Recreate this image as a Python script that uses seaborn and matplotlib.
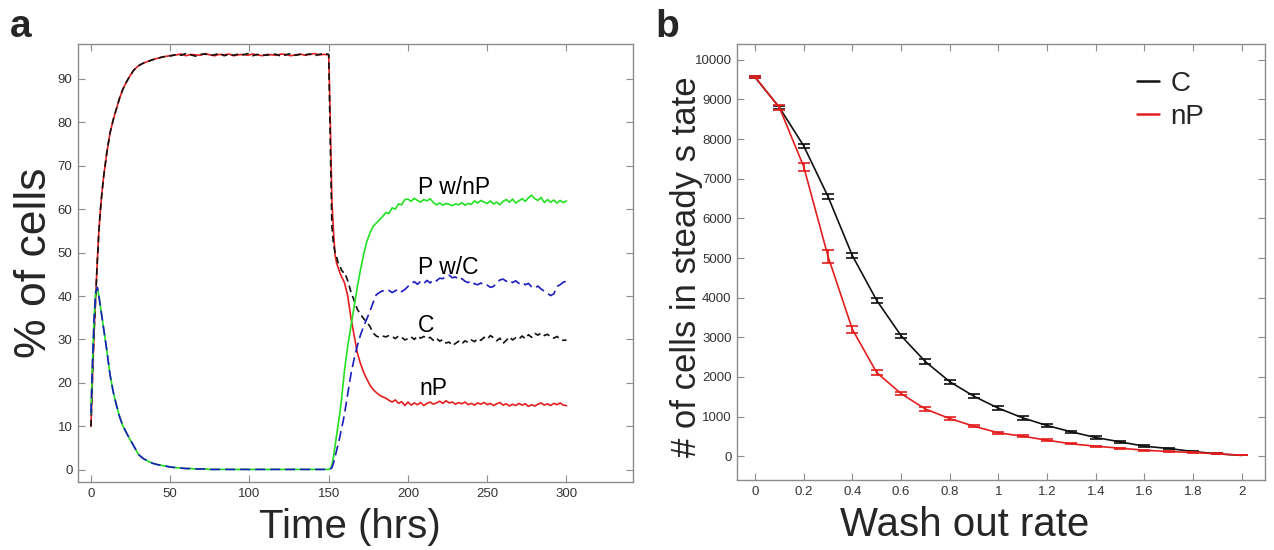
import numpy as np
import pandas as pd
import seaborn as sns
import matplotlib.pyplot as plt
from matplotlib.lines import Line2D
from matplotlib.ticker import FuncFormatter

# ---- panel a: % of cells over time ----
t_rise = [0, 1, 2, 3, 4, 5, 6, 7, 8, 10, 12, 14, 16, 18, 20, 22, 24, 27, 30, 33, 36, 39, 42, 45, 48]
t_flat = list(range(51, 148, 3))
t_drop = [150, 151, 152, 153, 154, 155, 156, 157, 158, 159, 160, 162, 164, 166, 168, 170,
          172, 174, 176, 178, 180, 182, 184, 186, 188, 190, 192, 194, 196, 198]
t_end = list(range(200, 301, 2))
time_hrs = t_rise + t_flat + t_drop + t_end

c_vals = (
    [10, 22, 32, 40, 48, 55, 60, 64, 67.5, 73, 77.5, 80.5, 83, 85.5, 87.5, 89, 90.3, 92, 93,
     93.6, 94, 94.4, 94.7, 95, 95.2]
    + [95.3, 95.6, 95.4, 95.8, 95.5, 95.2, 95.6, 95.7, 95.4, 95.5, 95.9, 95.3, 95.6, 95.4, 95.7,
       95.5, 95.8, 95.3, 95.6, 95.5, 95.4, 95.7, 95.6, 95.2, 95.5, 95.8, 95.4, 95.6, 95.5, 95.7,
       95.3, 95.6, 95.8]
    + [95.6, 75, 56, 52, 50, 49, 47.5, 47, 46, 45.5, 45.5, 43.5, 41, 39, 37, 35.8, 34.8, 34,
       33, 31.5, 30.8, 30.5, 30.8, 30.6, 30.9, 30.7, 30.2, 30.8, 30.5, 29.9]
    + [30.2, 30.6, 30.0, 30.8, 30.3, 30.7, 30.2, 30.5, 29.8, 30.3, 29.6, 30.0, 29.2, 29.4, 28.6,
       29.1, 29.6, 29.0, 29.7, 29.3, 29.9, 29.5, 30.2, 29.8, 30.5, 30.1, 30.9, 30.4, 29.7, 30.3,
       29.1, 29.8, 30.6, 29.9, 30.4, 30.1, 30.8, 30.2, 31.1, 30.5, 31.4, 31.0, 31.5, 30.9, 31.2,
       30.6, 30.3, 30.7, 30.1, 29.8, 29.9]
)

np_vals = (
    [10, 22, 32, 40, 48, 55, 60, 64, 67.5, 73, 77.5, 80.5, 83, 85.5, 87.5, 89, 90.3, 92, 93,
     93.6, 94, 94.4, 94.7, 95, 95.2]
    + [95.4, 95.5, 95.7, 95.3, 95.6, 95.5, 95.4, 95.8, 95.5, 95.3, 95.6, 95.5, 95.7, 95.3, 95.5,
       95.6, 95.4, 95.7, 95.5, 95.3, 95.6, 95.5, 95.4, 95.7, 95.6, 95.3, 95.5, 95.7, 95.4, 95.6,
       95.8, 95.5, 95.6]
    + [95.5, 80, 62, 55, 49.5, 47.5, 46.5, 45.4, 44.5, 43.8, 43, 40, 35, 31, 27, 24.5, 22.5,
       20.9, 19.5, 18.5, 17.8, 17.2, 16.8, 16.5, 16, 15.6, 16.1, 15.3, 15.7, 14.8]
    + [15.6, 14.9, 15.4, 15.0, 15.5, 14.8, 15.3, 15.6, 15.1, 15.4, 15.8, 15.3, 15.9, 15.4, 15.6,
       15.1, 15.5, 15.2, 15.6, 15.0, 15.3, 14.9, 15.4, 15.1, 15.5, 15.0, 15.3, 14.8, 15.2, 15.5,
       14.9, 15.2, 14.7, 15.1, 14.8, 15.3, 14.9, 15.2, 14.6, 15.0, 14.7, 15.1, 15.4, 14.9, 15.2,
       14.8, 15.3, 15.0, 15.4, 14.9, 14.8]
)

p_np_vals = (
    [13, 25, 35, 41, 42, 40, 37.5, 35, 32.5, 27.5, 22, 18, 15, 12.3, 10.2, 8.8, 7.4, 5.5, 3.5,
     2.6, 2, 1.5, 1.2, 1, 0.8]
    + [0.6, 0.5, 0.4, 0.3, 0.3, 0.2, 0.2, 0.2, 0.1, 0.1, 0.1, 0.1, 0.1, 0.1, 0.1, 0.1, 0.1,
       0.1, 0.1, 0.1, 0.1, 0.1, 0.1, 0.1, 0.1, 0.1, 0.1, 0.1, 0.1, 0.1, 0.1, 0.1, 0.1]
    + [0.1, 0.3, 1, 3, 5.5, 8, 10.5, 13, 16, 19.5, 23, 28.5, 33, 37.5, 42, 46, 49.5, 52.5,
       54.5, 56, 56.8, 57.5, 58.3, 59.2, 59, 60.3, 60, 61.2, 61, 62.2]
    + [62.3, 61.8, 62.5, 62.0, 61.6, 62.2, 61.9, 62.4, 61.5, 61.0, 61.4, 60.9, 61.3, 61.1, 60.8,
       61.2, 61.0, 61.5, 60.9, 61.3, 61.1, 61.9, 61.4, 62.0, 61.6, 61.3, 61.9, 61.2, 61.6, 61.0,
       61.8, 62.2, 61.6, 62.3, 61.4, 61.9, 62.4, 61.8, 62.6, 63.2, 62.4, 62.0, 62.7, 61.5, 62.2,
       61.6, 62.1, 61.4, 62.0, 61.5, 61.9]
)

p_c_vals = (
    [13, 25, 35, 41, 42, 40, 37.5, 35, 32.5, 27.5, 22, 18, 15, 12.3, 10.2, 8.8, 7.4, 5.5, 3.5,
     2.6, 2, 1.5, 1.2, 1, 0.8]
    + [0.6, 0.5, 0.4, 0.3, 0.3, 0.2, 0.2, 0.2, 0.1, 0.1, 0.1, 0.1, 0.1, 0.1, 0.1, 0.1, 0.1,
       0.1, 0.1, 0.1, 0.1, 0.1, 0.1, 0.1, 0.1, 0.1, 0.1, 0.1, 0.1, 0.1, 0.1, 0.1, 0.1]
    + [0.1, 0.2, 0.5, 1.5, 3, 4.5, 6, 7.5, 9.5, 11, 13, 17.5, 22, 25.5, 28.5, 31, 33, 34.7,
       36.5, 38.5, 40.3, 40.8, 41.2, 41, 41.3, 40.8, 41.2, 41.6, 41, 41.5]
    + [42.2, 42.9, 43.3, 42.7, 43.4, 42.9, 43.6, 43.0, 43.8, 43.5, 44.1, 44.0, 44.6, 44.8, 44.2,
       44.4, 43.7, 44.0, 43.4, 43.1, 43.5, 42.8, 42.6, 43.0, 42.4, 42.5, 42.0, 42.2, 43.1, 43.7,
       43.9, 43.4, 43.7, 43.1, 43.5, 42.9, 43.2, 42.6, 42.9, 42.1, 41.8, 42.3, 41.6, 41.1, 40.6,
       40.1, 40.5, 42.2, 42.6, 43.2, 43.4]
)

series_labels = ["P w/nP", "P w/C", "C", "nP"]
label_pos = [(206.5, 63.4), (206.5, 45.0), (206.5, 31.7), (207, 17.2)]

# ---- panel b: steady state vs wash out rate ----
wash_rate = [round(0.1 * i, 1) for i in range(21)]
c_steady = [9560, 8800, 7830, 6550, 5060, 3930, 3040, 2385, 1880, 1510, 1210, 967, 773, 614,
            471, 362, 252, 194, 118, 60, 20]
c_err = [30, 40, 50, 55, 60, 55, 55, 55, 50, 50, 55, 45, 40, 30, 30, 30, 20, 20, 20, 10, 0]
np_steady = [9570, 8800, 7305, 5040, 3200, 2108, 1580, 1190, 950, 755, 590, 504, 403, 312,
             252, 202, 151, 118, 93, 60, 25]
np_err = [30, 60, 100, 160, 90, 60, 30, 40, 30, 25, 30, 20, 20, 15, 15, 15, 15, 10, 10, 10, 0]

RED = "#e41e1e"
GREEN = "#22e022"
BLUE = "#1c1cc0"
BLACK = "#111111"
FRAME = "#8c8c8c"
TICKTXT = "#333333"

sns.set_theme(style="ticks")
plt.rcParams["font.family"] = ["Liberation Sans", "DejaVu Sans"]

fig = plt.figure(figsize=(12.74, 5.5), dpi=100)
ax_a = fig.add_axes([0.0612, 0.1236, 0.4357, 0.7964])
ax_b = fig.add_axes([0.5785, 0.1273, 0.4144, 0.7927])

df_a = pd.DataFrame({"time": time_hrs, "C": c_vals, "nP": np_vals,
                     "P w/nP": p_np_vals, "P w/C": p_c_vals})

sns.lineplot(data=df_a, x="time", y="nP", ax=ax_a, color=RED, lw=1.2, errorbar=None)
sns.lineplot(data=df_a, x="time", y="C", ax=ax_a, color=BLACK, lw=1.2, errorbar=None,
             linestyle=(0, (4, 2.5)))
sns.lineplot(data=df_a, x="time", y="P w/nP", ax=ax_a, color=GREEN, lw=1.2, errorbar=None)
sns.lineplot(data=df_a, x="time", y="P w/C", ax=ax_a, color=BLUE, lw=1.2, errorbar=None,
             linestyle=(0, (6, 3)))

for lab, (x, y) in zip(series_labels, label_pos):
    ax_a.text(x, y, lab, fontsize=16.5, va="baseline", ha="left", color="black")

ax_a.set_xlim(-8.2, 342)
ax_a.set_ylim(-2.8, 98)
ax_a.set_xticks(range(0, 301, 50))
ax_a.set_yticks(range(0, 91, 10))
ax_a.set_xlabel("Time (hrs)", fontsize=29)
ax_a.set_ylabel("% of cells", fontsize=32)

# panel b
df_b = pd.DataFrame({"rate": wash_rate, "C": c_steady, "nP": np_steady})
sns.lineplot(data=df_b, x="rate", y="C", ax=ax_b, color=BLACK, lw=1.2, errorbar=None)
ax_b.errorbar(wash_rate, c_steady, yerr=c_err, fmt="none", ecolor=BLACK, elinewidth=1.2,
              capsize=4, capthick=1.2)
sns.lineplot(data=df_b, x="rate", y="nP", ax=ax_b, color=RED, lw=1.2, errorbar=None)
ax_b.errorbar(wash_rate, np_steady, yerr=np_err, fmt="none", ecolor=RED, elinewidth=1.2,
              capsize=4, capthick=1.2)

ax_b.set_xlim(-0.074, 2.095)
ax_b.set_ylim(-600, 10400)
ax_b.set_xticks(np.arange(0, 2.01, 0.2))
ax_b.xaxis.set_major_formatter(FuncFormatter(lambda v, p: f"{v:g}"))
ax_b.set_yticks(range(0, 10001, 1000))
ax_b.set_xlabel("Wash out rate", fontsize=29)
ax_b.set_ylabel("# of cells in steady s tate", fontsize=25)

handles = [Line2D([0], [0], color=BLACK, lw=1.8), Line2D([0], [0], color=RED, lw=1.8)]
ax_b.legend(handles, ["C", "nP"], loc="upper left", bbox_to_anchor=(0.71, 0.995),
            frameon=False, fontsize=20, handlelength=0.8, handletextpad=0.4,
            labelspacing=0.25)

for ax in (ax_a, ax_b):
    for sp in ax.spines.values():
        sp.set_visible(True)
        sp.set_color(FRAME)
        sp.set_linewidth(1.0)
    ax.tick_params(direction="in", top=True, right=True, length=5, width=0.8,
                   color=FRAME, labelcolor=TICKTXT, labelsize=9.5, pad=4)
    ax.grid(False)

ax_a.xaxis.set_label_coords((350 - 78) / 555, -0.06)
ax_a.yaxis.set_label_coords(-0.042, 0.5)
ax_b.xaxis.set_label_coords((965 - 737) / 528, -0.06)
ax_b.yaxis.set_label_coords(-0.064, 0.49)

fig.text(10 / 1274, 1 - 37 / 550, "a", fontsize=28, fontweight="bold")
fig.text(655 / 1274, 1 - 37 / 550, "b", fontsize=28, fontweight="bold")

fig.savefig("out.png", dpi=100)
